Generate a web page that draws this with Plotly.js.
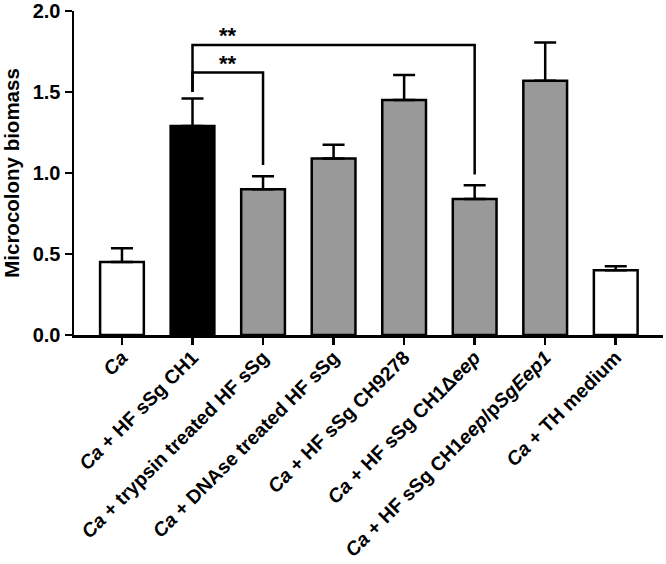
<!DOCTYPE html>
<html>
<head>
<meta charset="utf-8">
<script src="https://cdn.plot.ly/plotly-3.0.1.min.js"></script>
<style>html,body{margin:0;padding:0;background:#fff;}#chart{width:666px;height:564px;}</style>
</head>
<body>
<div id="chart"></div>
<script>
// ---- data ----
const categories = ["Ca","Ca + HF sSg CH1","Ca + trypsin treated HF sSg","Ca + DNAse treated HF sSg","Ca + HF sSg CH9278","Ca + HF sSg CH1\u0394eep","Ca + HF sSg CH1eep/pSgEep1","Ca + TH medium"];
const tickLabels = ["<i>Ca</i>","<i>Ca</i> + HF sSg CH1","<i>Ca</i> + trypsin treated HF sSg","<i>Ca</i> + DNAse treated HF sSg","<i>Ca</i> + HF sSg CH9278","<i>Ca</i> + HF sSg CH1\u0394<i>eep</i>","<i>Ca</i> + HF sSg CH1<i>eep</i>/p<i>SgEep1</i>","<i>Ca</i> + TH medium"];
const means = [0.45, 1.29, 0.90, 1.09, 1.45, 0.84, 1.57, 0.40];
const errors = [0.085, 0.17, 0.08, 0.085, 0.155, 0.085, 0.235, 0.025];
const barColors = ["#ffffff","#000000","#999999","#999999","#999999","#999999","#999999","#ffffff"];

// significance brackets
const bracketLeft = [1, 1];
const bracketRight = [5, 2];
const bracketTop = [1.79, 1.62];
const bracketLeftFoot = [1.50, 1.50];
const bracketRightFoot = [0.99, 1.05];
const bracketLabels = ["**", "**"];

// ---- traces ----
const traces = [{
  type: "bar",
  x: categories,
  y: means,
  marker: {color: barColors, line: {color: "#000", width: 2.5}},
  width: 0.62,
  error_y: {type: "data", symmetric: false, array: errors, arrayminus: means.map(() => 0), color: "#000", thickness: 2.5, width: 11},
  hoverinfo: "none"
}];

const annotations = [];
for (let i = 0; i < bracketTop.length; i++) {
  const a = categories[bracketLeft[i]], b = categories[bracketRight[i]];
  traces.push({
    type: "scatter", mode: "lines",
    x: [a, a, b, b],
    y: [bracketLeftFoot[i], bracketTop[i], bracketTop[i], bracketRightFoot[i]],
    line: {color: "#000", width: 2.5},
    hoverinfo: "none", cliponaxis: false
  });
  annotations.push({
    x: 1.5, y: bracketTop[i], xref: "x", yref: "y",
    text: bracketLabels[i], showarrow: false,
    yanchor: "bottom", yshift: -5,
    font: {family: "Liberation Sans, Arial, sans-serif", size: 22, color: "#000", weight: "bold"}
  });
}

const layout = {
  width: 666, height: 564,
  margin: {l: 74, r: 3, t: 11, b: 229},
  paper_bgcolor: "#fff", plot_bgcolor: "#fff",
  showlegend: false,
  font: {family: "Liberation Sans, Arial, sans-serif", color: "#000"},
  xaxis: {
    type: "category",
    range: [-0.68, 7.67],
    tickmode: "array",
    tickvals: categories,
    ticktext: tickLabels,
    tickangle: -45,
    tickfont: {size: 19.5, weight: "bold", color: "#000"},
    ticklabelstandoff: -6,
    showline: true, linecolor: "#000", linewidth: 2.5,
    ticks: "outside", ticklen: 7, tickwidth: 2.5, tickcolor: "#000",
    showgrid: false, zeroline: false, fixedrange: true
  },
  yaxis: {
    range: [0, 2.0],
    tickvals: [0, 0.5, 1.0, 1.5, 2.0],
    ticktext: ["0.0", "0.5", "1.0", "1.5", "2.0"],
    tickfont: {size: 20, weight: "bold", color: "#000"},
    ticklabeloverflow: "allow",
    showline: true, linecolor: "#000", linewidth: 2.5,
    ticks: "outside", ticklen: 7, tickwidth: 2.5, tickcolor: "#000",
    showgrid: false, zeroline: false, fixedrange: true,
    title: {text: "Microcolony biomass", font: {size: 20.5, weight: "bold", color: "#000"}, standoff: 9}
  },
  annotations: annotations
};

Plotly.newPlot("chart", traces, layout, {displayModeBar: false, staticPlot: true});
</script>
</body>
</html>
